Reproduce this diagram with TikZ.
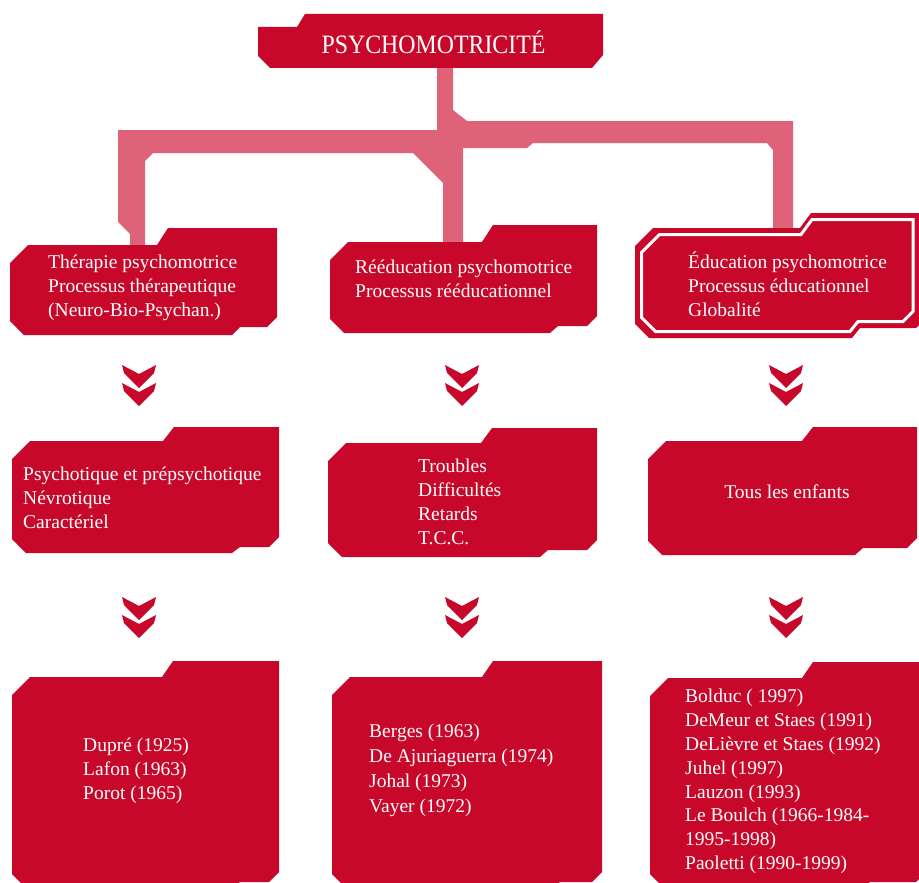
\documentclass[tikz,border=0pt]{standalone}
\usepackage{fontspec}
\setmainfont{Liberation Serif}
\definecolor{boxred}{RGB}{200,8,42}
\definecolor{linkpink}{RGB}{222,98,120}

% Folder-shaped panel: left, right, tab top, body top, body bottom,
% right-part bottom, x where the tab rises, x of the bottom step, style
\newcommand\drawfolder[9]{%
  \path[#9] (#1,#4+18) -- (#1+18,#4) -- (#7,#4) -- (#7+11,#3) -- (#2,#3)
    -- (#2,#6-10) -- (#2-10,#6) -- (#8,#6) -- (#8-8,#5) -- (#1+14,#5)
    -- (#1,#5-14) -- cycle;}

\tikzset{
  boxfill/.style={fill=boxred, draw=none},
  linkfill/.style={fill=linkpink, draw=none},
  boxtext/.style={text=white, font=\fontsize{19.5}{23.8}\selectfont,
    align=left, inner sep=0pt, anchor=west},
  dblchev/.pic={
    \fill[boxred] (-17,0) -- (0,9) -- (17,0) -- (15,8) -- (0,23) -- (-15,8) -- cycle;
    \fill[boxred] (-17,18) -- (0,27) -- (17,18) -- (15,26) -- (0,41) -- (-15,26) -- cycle;
  }
}

\begin{document}
\begin{tikzpicture}[x=1pt,y=-1pt]
\useasboundingbox (0,0) rectangle (919,883);

% branching bars from the title down to the three first panels
\fill[linkfill] (437,60) -- (453,60) -- (453,110) -- (467,121) -- (793,121)
  -- (793,234) -- (773,234) -- (773,150) -- (767,143) -- (533,143) -- (527,148)
  -- (463,148) -- (463,248) -- (443,248) -- (443,183) -- (413,153) -- (153,153)
  -- (145,161) -- (145,250) -- (130,250) -- (130,234) -- (118,222) -- (118,130)
  -- (437,130) -- cycle;

% title panel
\fill[boxred] (258,27) -- (297,27) -- (305,14) -- (603,14) -- (603,55)
  -- (592,68) -- (270,68) -- (258,56) -- cycle;
\node[boxtext, anchor=center, font=\fontsize{26.5}{30}\selectfont] (title)
  at (433.5,42.5) {\scalebox{0.9}[1]{PSYCHOMOTRICITÉ}};

% first row of panels
\drawfolder{10}{277}{228}{245}{335}{327}{157}{240}{boxfill}
\drawfolder{330}{597}{225}{242}{333}{326}{482}{558}{boxfill}
\drawfolder{635}{926}{213}{228}{338}{328}{800}{860}{boxfill}
\drawfolder{641.5}{913}{219.5}{234.5}{331.5}{321.5}{801}{858}{boxfill, draw=white, line width=3}

\node[boxtext] (therapie) at (48,288)
  {Thérapie psychomotrice\\Processus thérapeutique\\(Neuro-Bio-Psychan.)};
\node[boxtext] (reeduc) at (355,279)
  {Rééducation psychomotrice\\Processus rééducationnel};
\node[boxtext] (educ) at (688,284)
  {Éducation psychomotrice\\Processus éducationnel\\Globalité};

% double chevrons
\pic at (139,365) {dblchev};
\pic at (462,365) {dblchev};
\pic at (786,365) {dblchev};
\pic at (139,597) {dblchev};
\pic at (462,597) {dblchev};
\pic at (786,597) {dblchev};

% second row of panels
\drawfolder{12}{279}{427}{441}{553}{547}{163}{240}{boxfill}
\drawfolder{328}{597}{428}{443}{557}{550}{481}{548}{boxfill}
\drawfolder{648}{917}{427}{441}{555}{548}{802}{863}{boxfill}

\node[boxtext] (psycho) at (23,498)
  {Psychotique et prépsychotique\\Névrotique\\Caractériel};
\node[boxtext] (troubles) at (418,502)
  {Troubles\\Difficultés\\Retards\\T.C.C.};
\node[boxtext, anchor=center] (enfants) at (787,492) {Tous les enfants};

% third row of panels
\drawfolder{12}{279}{661}{677}{888}{882}{162}{240}{boxfill}
\drawfolder{332}{602}{661}{677}{888}{882}{482}{560}{boxfill}
\drawfolder{650}{926}{662}{678}{888}{882}{802}{870}{boxfill}

\node[boxtext] (auteursA) at (83,771)
  {Dupré (1925)\\Lafon (1963)\\Porot (1965)};
\node[boxtext, font=\fontsize{19.5}{25}\selectfont] (auteursB) at (369,770)
  {Berges (1963)\\De Ajuriaguerra (1974)\\Johal (1973)\\Vayer (1972)};
\node[boxtext] (auteursC) at (685,781.5)
  {Bolduc ( 1997)\\DeMeur et Staes (1991)\\DeLièvre et Staes (1992)\\Juhel (1997)\\Lauzon (1993)\\Le Boulch (1966-1984-\\1995-1998)\\Paoletti (1990-1999)};
\end{tikzpicture}
\end{document}
